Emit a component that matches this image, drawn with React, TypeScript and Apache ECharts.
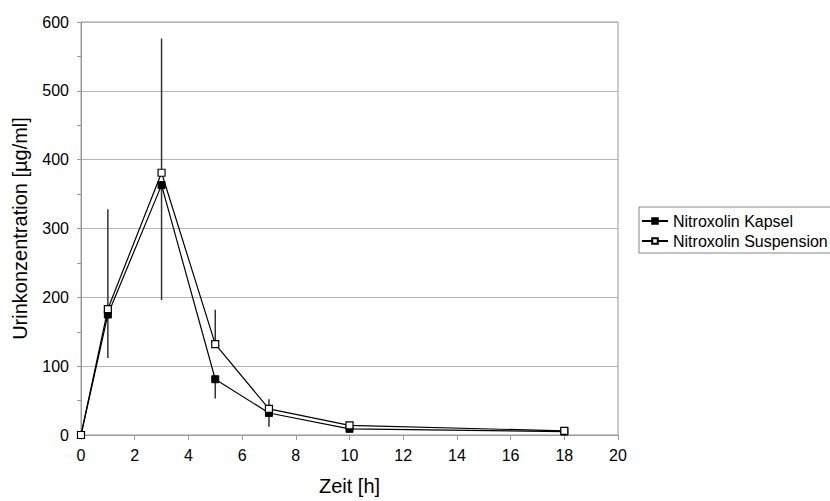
import React, { useEffect, useRef } from "react";
import * as echarts from "echarts";

const times = [0, 1, 3, 5, 7, 10, 18];
const kapsel = [0, 175, 363, 81, 32, 9, 5];
const suspension = [0, 183, 381, 132, 38, 14, 6];
const suspensionErrUp = [0, 145, 195, 50, 14, 0, 0];
const kapselErrDown = [0, 63, 167, 28, 20, 0, 0];
const seriesNames = ["Nitroxolin Kapsel", "Nitroxolin Suspension"];

export default function App() {
  const ref = useRef<HTMLDivElement>(null);
  useEffect(() => {
    if (!ref.current) return;
    const chart = echarts.init(ref.current, undefined, { renderer: "svg" });
    const errData: number[][] = [];
    times.forEach((t, i) => {
      if (suspensionErrUp[i] > 0) errData.push([t, suspension[i], suspension[i] + suspensionErrUp[i]]);
      if (kapselErrDown[i] > 0) errData.push([t, kapsel[i] - kapselErrDown[i], kapsel[i]]);
    });
    const font = "Liberation Sans, Arial, sans-serif";
    chart.setOption({
      animation: false,
      backgroundColor: "#fff",
      textStyle: { fontFamily: font },
      grid: { left: 81, top: 22, width: 537, height: 418, show: true, borderColor: "#999", borderWidth: 1 },
      legend: {
        left: 639,
        top: 207,
        orient: "vertical",
        data: seriesNames,
        borderColor: "#888",
        borderWidth: 1,
        padding: [6, 4, 4, 2],
        itemGap: 4,
        itemWidth: 26,
        itemHeight: 7,
        textStyle: { fontSize: 16, color: "#000", fontFamily: font },
      },
      xAxis: {
        type: "value",
        min: 0,
        max: 20,
        interval: 2,
        name: "Zeit [h]",
        nameLocation: "middle",
        nameGap: 41,
        nameTextStyle: { fontSize: 20, color: "#000", fontFamily: font },
        axisLine: { lineStyle: { color: "#999", width: 1 } },
        axisTick: { show: true, length: 5, lineStyle: { color: "#999" } },
        axisLabel: { fontSize: 16, color: "#000", margin: 12, fontFamily: font },
        splitLine: { show: false },
      },
      yAxis: {
        type: "value",
        min: 0,
        max: 600,
        interval: 100,
        name: "Urinkonzentration [µg/ml]",
        nameLocation: "middle",
        nameGap: 51,
        nameTextStyle: { fontSize: 20, color: "#000", fontFamily: font },
        axisLine: { show: true, lineStyle: { color: "#999", width: 1 } },
        axisTick: { show: true, length: 4, lineStyle: { color: "#999" } },
        minorTick: { show: true, splitNumber: 2, length: 4, lineStyle: { color: "#999" } },
        axisLabel: { fontSize: 16, color: "#000", margin: 12, fontFamily: font },
        splitLine: { show: true, lineStyle: { color: "#b4b4b4", width: 1 } },
      },
      series: [
        {
          type: "custom",
          name: "err",
          silent: true,
          z: 1,
          data: errData,
          renderItem: (params: any, api: any) => {
            const p1 = api.coord([api.value(0), api.value(1)]);
            const p2 = api.coord([api.value(0), api.value(2)]);
            return {
              type: "line",
              shape: { x1: p1[0], y1: p1[1], x2: p2[0], y2: p2[1] },
              style: { stroke: "#333", lineWidth: 1.5 },
            };
          },
        },
        {
          type: "line",
          name: seriesNames[0],
          z: 3,
          data: times.map((t, i) => [t, kapsel[i]]),
          symbol: "rect",
          symbolSize: 7,
          lineStyle: { color: "#000", width: 1.2 },
          itemStyle: { color: "#000", borderColor: "#000", borderWidth: 1 },
        },
        {
          type: "line",
          name: seriesNames[1],
          z: 4,
          data: times.map((t, i) => [t, suspension[i]]),
          symbol: "rect",
          symbolSize: 7,
          lineStyle: { color: "#000", width: 1.2 },
          itemStyle: { color: "#fff", borderColor: "#000", borderWidth: 1.2 },
        },
      ],
    });
    return () => chart.dispose();
  }, []);
  return <div ref={ref} style={{ position: "fixed", left: 0, top: 0, width: 830, height: 501 }} />;
}
